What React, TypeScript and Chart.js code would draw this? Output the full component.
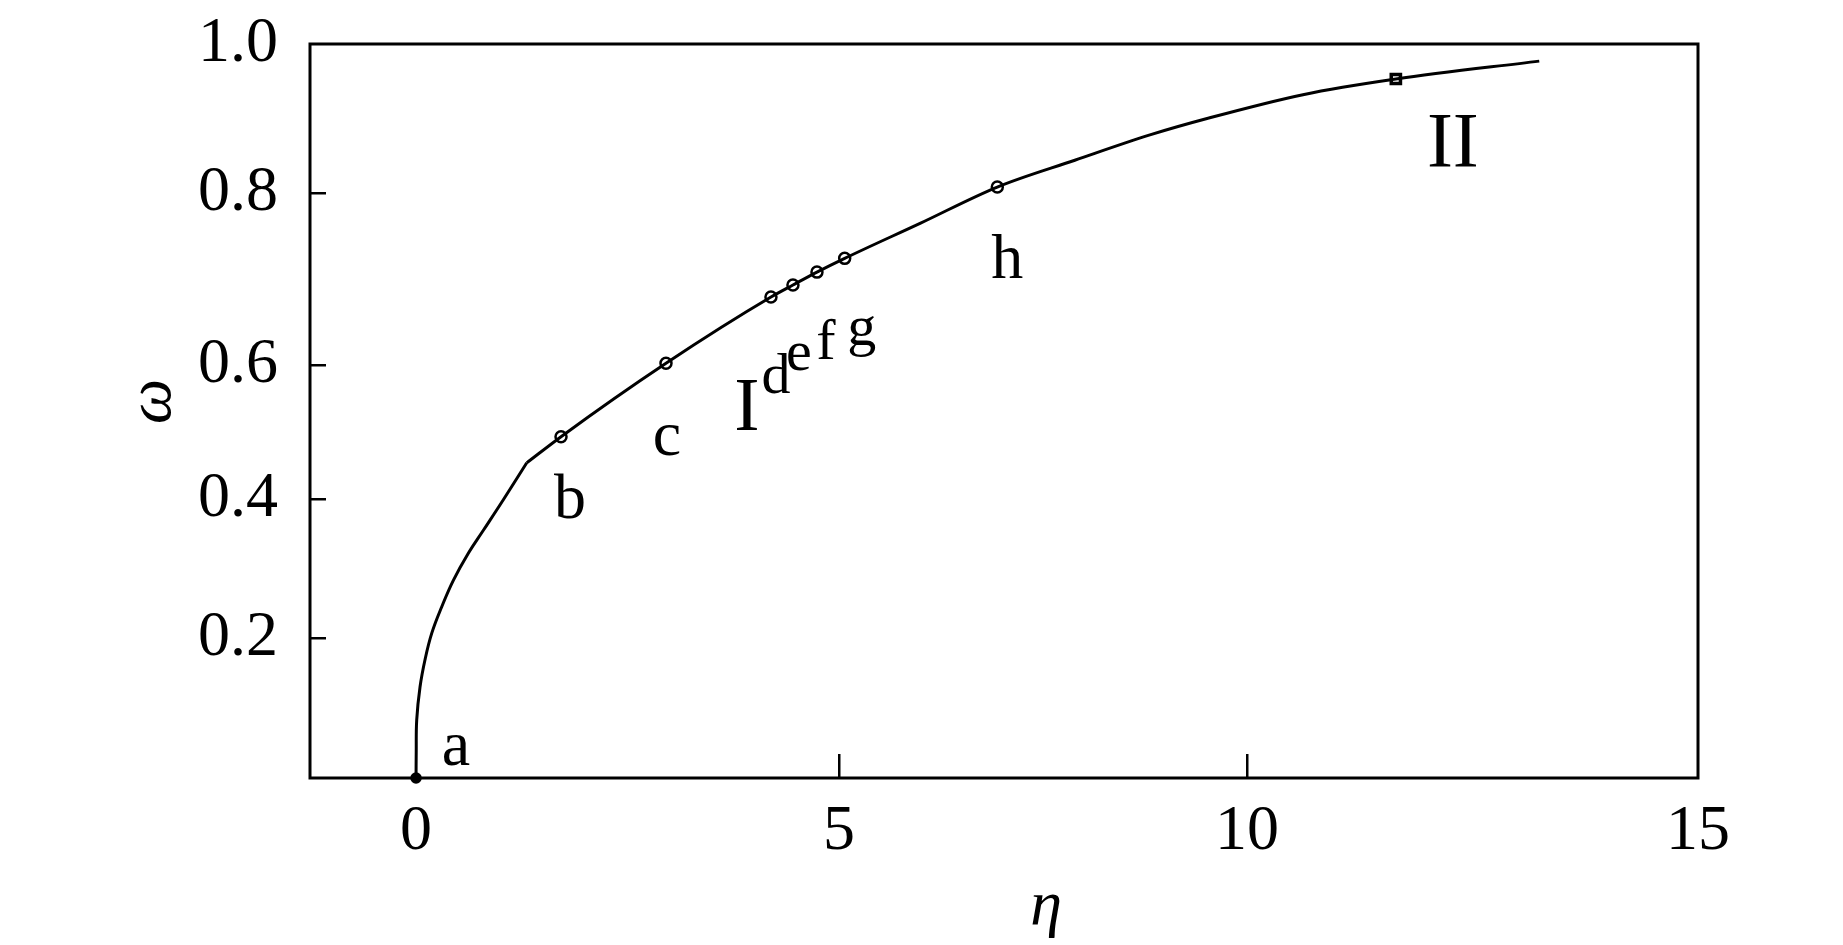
import React, { useEffect, useRef } from 'react';
import { Chart, registerables, LinearScale } from 'chart.js';

// ---- data ----
// lower branch: from a up to the kink below b
const lowerEta = [0, 0.002, 0.008, 0.047, 0.106, 0.186, 0.304, 0.441, 0.618, 0.796, 1.032, 1.309];
const lowerOmega = [0, 0.036, 0.083, 0.13, 0.169, 0.207, 0.245, 0.283, 0.322, 0.355, 0.399, 0.454];
// upper branch: from the kink to the end of the curve
const upperEta = [1.309, 1.714, 2.955, 4.196, 4.456, 4.74, 5.07, 6.0, 6.94, 7.89, 8.81, 9.51, 10.62, 11.65, 13.24];
const upperOmega = [0.454, 0.493, 0.602, 0.679, 0.693, 0.708, 0.724, 0.765, 0.808, 0.844, 0.878, 0.9, 0.932, 0.953, 0.977];
const pointNames = ['a', 'b', 'c', 'd', 'e', 'f', 'g', 'h'];
const pointEta = [0, 1.714, 2.955, 4.196, 4.456, 4.74, 5.07, 6.94];
const pointOmega = [0, 0.493, 0.602, 0.679, 0.693, 0.708, 0.724, 0.808];
const squareEta = [11.65];
const squareOmega = [0.953];
const xTicks = [0, 5, 10, 15];
const yTicks = [0.2, 0.4, 0.6, 0.8, 1.0];
const xMarkedTicks = [5, 10];
const yMarkedTicks = [0.2, 0.4, 0.6, 0.8];
// calibration of the reference's unevenly spaced axes (value -> fraction of axis length)
const xWarpValues = [-1.25, 0, 5, 10, 15];
const xWarpFractions = [0, 0.0764, 0.3811, 0.6751, 1];
const yWarpValues = [0, 0.2, 0.4, 0.6, 0.8, 1.0];
const yWarpFractions = [0, 0.1907, 0.3801, 0.5627, 0.797, 1];

const WARPS: Record<string, { values: number[]; fractions: number[] }> = {
  x: { values: xWarpValues, fractions: xWarpFractions },
  y: { values: yWarpValues, fractions: yWarpFractions },
};

function interp(v: number, from: number[], to: number[]) {
  const n = from.length;
  let i = 0;
  if (v <= from[0]) i = 0;
  else if (v >= from[n - 1]) i = n - 2;
  else {
    while (i < n - 2 && v > from[i + 1]) i++;
  }
  const t = (v - from[i]) / (from[i + 1] - from[i]);
  return to[i] + t * (to[i + 1] - to[i]);
}

class WarpedScale extends LinearScale {
  static id = 'warped';
  static defaults = {};
  getPixelForValue(value: number) {
    const w = WARPS[(this as any).id];
    if (value === null || value === undefined || isNaN(value)) return NaN;
    return (this as any).getPixelForDecimal(interp(value, w.values, w.fractions));
  }
  getValueForPixel(pixel: number) {
    const w = WARPS[(this as any).id];
    return interp((this as any).getDecimalForPixel(pixel), w.fractions, w.values);
  }
}

Chart.register(...registerables, WarpedScale as any);

const FONT = "'Liberation Serif', 'Times New Roman', serif";
const labelOffsets: number[][] = [[40, -13], [9, 81], [1, 92], [5, 96], [6, 85], [9, 87], [17, 87], [10, 91]];
const labelSizes = [64, 64, 64, 58, 58, 58, 58, 64];

const decorPlugin = {
  id: 'decor',
  beforeDatasetsDraw(chart: any) {
    const { ctx, chartArea: a } = chart;
    ctx.save();
    ctx.strokeStyle = '#000';
    ctx.lineWidth = 3;
    ctx.strokeRect(a.left, a.top, a.right - a.left, a.bottom - a.top);
    ctx.restore();
  },
  afterDatasetsDraw(chart: any) {
    const { ctx, chartArea: a, scales } = chart;
    const xs = scales.x, ys = scales.y;
    ctx.save();
    ctx.fillStyle = '#000';
    ctx.textAlign = 'center';
    ctx.textBaseline = 'alphabetic';
    pointNames.forEach((name, i) => {
      const px = xs.getPixelForValue(pointEta[i]);
      const py = ys.getPixelForValue(pointOmega[i]);
      ctx.font = `${labelSizes[i]}px ${FONT}`;
      ctx.fillText(name, px + labelOffsets[i][0], py + labelOffsets[i][1]);
    });
    // region labels
    const dx = xs.getPixelForValue(pointEta[3]);
    const dy = ys.getPixelForValue(pointOmega[3]);
    ctx.font = `76px ${FONT}`;
    ctx.fillText('I', dx - 24, dy + 133);
    const sx = xs.getPixelForValue(squareEta[0]);
    const sy = ys.getPixelForValue(squareOmega[0]);
    ctx.font = `78px ${FONT}`;
    ctx.fillText('II', sx + 57, sy + 87);
    // axis titles
    ctx.font = `italic 64px ${FONT}`;
    ctx.fillText('η', a.left + 0.5303 * (a.right - a.left), a.bottom + 146);
    ctx.save();
    ctx.translate(a.left - 140, a.top + 0.487 * (a.bottom - a.top));
    ctx.rotate(-Math.PI / 2);
    ctx.fillText('ω', 0, 0);
    ctx.restore();
    ctx.restore();
  },
};

export default function App() {
  const ref = useRef<HTMLCanvasElement>(null);
  useEffect(() => {
    document.body.style.margin = '0';
    const canvas = ref.current!;
    const chart = new Chart(canvas, {
      type: 'scatter',
      data: {
        datasets: [
          {
            data: lowerEta.map((x, i) => ({ x, y: lowerOmega[i] })),
            showLine: true,
            borderColor: '#000',
            borderWidth: 3,
            pointRadius: 0,
            tension: 0.4,
            clip: false,
          } as any,
          {
            data: upperEta.map((x, i) => ({ x, y: upperOmega[i] })),
            showLine: true,
            borderColor: '#000',
            borderWidth: 3,
            pointRadius: 0,
            cubicInterpolationMode: 'monotone',
            clip: false,
          } as any,
          {
            data: pointEta.map((x, i) => ({ x, y: pointOmega[i] })),
            showLine: false,
            pointStyle: 'circle',
            pointRadius: pointEta.map((_, i) => (i === 0 ? 4.5 : 5.5)),
            pointBorderWidth: 2.5,
            pointBorderColor: '#000',
            pointBackgroundColor: pointEta.map((_, i) => (i === 0 ? '#000' : '#fff')),
            clip: false,
          } as any,
          {
            data: squareEta.map((x, i) => ({ x, y: squareOmega[i] })),
            showLine: false,
            pointStyle: 'rect',
            pointRadius: 6.5,
            pointBorderWidth: 3.5,
            pointBorderColor: '#000',
            pointBackgroundColor: '#fff',
            clip: false,
          } as any,
        ],
      },
      options: {
        animation: false,
        responsive: false,
        maintainAspectRatio: false,
        devicePixelRatio: 1,
        layout: { padding: { top: 44, right: 145, left: 0, bottom: 0 } },
        plugins: { legend: { display: false }, tooltip: { enabled: false } },
        scales: {
          x: {
            type: 'warped' as any,
            min: -1.25,
            max: 15,
            afterBuildTicks: (s: any) => { s.ticks = xTicks.map((v) => ({ value: v })); },
            afterFit: (s: any) => { s.height = 167; s.paddingLeft = 0; s.paddingRight = 0; },
            border: { display: false },
            grid: {
              drawOnChartArea: false,
              drawTicks: true,
              tickLength: -24,
              lineWidth: 2.5,
              color: (c: any) => (c.tick && xMarkedTicks.includes(c.tick.value) ? '#000' : 'rgba(0,0,0,0)'),
            },
            ticks: {
              autoSkip: false,
              maxRotation: 0,
              padding: 40,
              color: '#000',
              font: { family: FONT, size: 64 },
              callback: (v: any) => String(v),
            },
          },
          y: {
            type: 'warped' as any,
            min: 0,
            max: 1,
            afterBuildTicks: (s: any) => { s.ticks = yTicks.map((v) => ({ value: v })); },
            afterFit: (s: any) => { s.width = 310; s.paddingTop = 0; s.paddingBottom = 0; },
            border: { display: false },
            grid: {
              drawOnChartArea: false,
              drawTicks: true,
              tickLength: -16,
              lineWidth: 2.5,
              color: (c: any) => (c.tick && yMarkedTicks.some((m) => Math.abs(m - c.tick.value) < 1e-6) ? '#000' : 'rgba(0,0,0,0)'),
            },
            ticks: {
              autoSkip: false,
              padding: 48,
              color: '#000',
              font: { family: FONT, size: 64 },
              callback: (v: any) => Number(v).toFixed(1),
            },
          },
        } as any,
      },
      plugins: [decorPlugin],
    });
    return () => chart.destroy();
  }, []);
  return (
    <div style={{ width: 1843, height: 945, background: '#fff' }}>
      <canvas ref={ref} width={1843} height={945} style={{ display: 'block', width: 1843, height: 945 }} />
    </div>
  );
}
